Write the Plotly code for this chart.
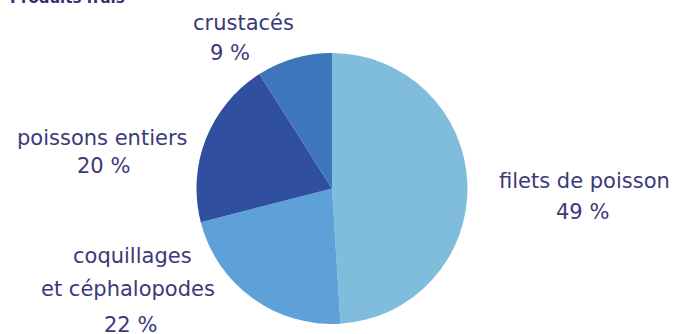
import plotly.graph_objects as go

# Data
categories = ["filets de poisson", "coquillages<br>et céphalopodes", "poissons entiers", "crustacés"]
values = [49, 22, 20, 9]
colors = ["#80bcdc", "#5ea1d8", "#304f9f", "#3e76bb"]
title_text = "Produits frais"

W, H = 676, 334
cx, cy, r = 332, 188.5, 135.5

fig = go.Figure(go.Pie(
    labels=categories,
    values=values,
    sort=False,
    direction="clockwise",
    rotation=0,
    marker=dict(colors=colors, line=dict(width=0)),
    textinfo="none",
    hoverinfo="label+percent",
    showlegend=False,
    domain=dict(x=[(cx - r) / W, (cx + r) / W], y=[(H - cy - r) / H, (H - cy + r) / H]),
))

txt_color = "#3b3978"
font = dict(family="DejaVu Sans, sans-serif", size=21, color=txt_color)

def px(x, y):
    return x / W, 1 - y / H

# label lines: (text, x_center_px, y_center_px)
label_lines = [
    ("crustacés", 243, 23),
    (f"{values[3]} %", 230, 53),
    ("poissons entiers", 102, 138),
    (f"{values[2]} %", 103, 166),
    ("filets de poisson", 584, 181),
    (f"{values[0]} %", 582, 212),
    ("coquillages", 132, 256),
    ("et céphalopodes", 128, 289),
    (f"{values[1]} %", 130, 325),
]

annotations = []
for t, x, y in label_lines:
    ax, ay = px(x, y)
    annotations.append(dict(text=t, x=ax, y=ay, xref="paper", yref="paper",
                            xanchor="center", yanchor="middle", showarrow=False, font=font))

tx, ty = px(8, 9)
annotations.append(dict(text=f"<b>{title_text}</b>", x=tx, y=ty, xref="paper", yref="paper",
                        xanchor="left", yanchor="bottom", showarrow=False,
                        font=dict(family="DejaVu Sans, sans-serif", size=15, color="#2f2f73")))

fig.update_layout(
    width=W, height=H,
    margin=dict(l=0, r=0, t=0, b=0),
    paper_bgcolor="white", plot_bgcolor="white",
    annotations=annotations,
)

fig.write_html("out.html", config={"displayModeBar": False},
               post_script="document.body.style.margin='0px';")
